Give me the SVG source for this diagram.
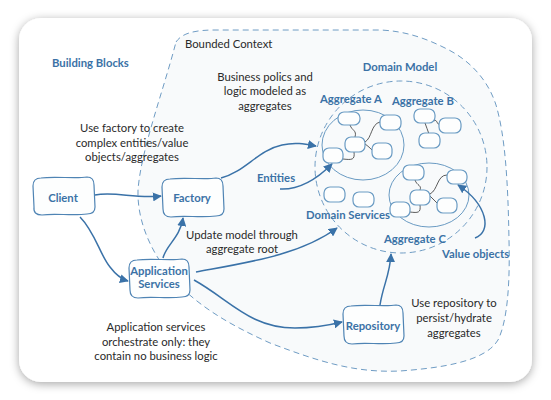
<svg xmlns="http://www.w3.org/2000/svg" width="551" height="400" viewBox="0 0 551 400">
<defs>
<filter id="sh" x="-10%" y="-10%" width="120%" height="120%">
<feDropShadow dx="0" dy="2" stdDeviation="5" flood-color="#000" flood-opacity="0.35"/>
</filter>
<marker id="ah" viewBox="0 0 10 10" refX="9" refY="5" markerWidth="9" markerHeight="9" markerUnits="userSpaceOnUse" orient="auto">
<path d="M0,0 L10,5 L0,10 Z" fill="#3a72a8"/>
</marker>
</defs>
<style>
.t{font-family:Lato,"Noto Sans",sans-serif;font-size:11.3px;fill:#2a2a2a}
.b{font-family:Lato,"Noto Sans",sans-serif;font-size:11.3px;font-weight:bold;fill:#3b72a6}
.m{text-anchor:middle}
.dash{fill:none;stroke:#6f9cc4;stroke-width:1;stroke-dasharray:6 4}
.box{fill:#fdfefe;stroke:#4f84b4;stroke-width:1.2}
.sr{fill:#fdfefe;stroke:#6a9bc3;stroke-width:1.2}
.el{fill:none;stroke:#6a9bc3;stroke-width:1}
.ln{fill:none;stroke:#333;stroke-width:0.8}
.c{fill:none;stroke:#3a72a8;stroke-width:1.5;marker-end:url(#ah)}
</style>
<rect x="0" y="0" width="551" height="400" fill="#ffffff"/>
<rect x="19" y="18" width="513" height="364" rx="22" fill="#ffffff" filter="url(#sh)"/>

<g id="bounded-context">
<path class="dash" style="fill:#f8fafb" d="M176,42 C182,33 195,30 215,30 L380,30 C405,31 425,38 445,48 C470,60 488,80 496,105 C505,135 508,180 509,240 C510,280 508,320 498,340 C485,362 440,368 400,371 C355,373 320,362 270,343 C230,325 195,305 170,275 C150,250 137,220 138,190 C141,150 163,92 176,42 Z"/>
<text class="t" x="185" y="48">Bounded Context</text>
</g>

<g id="domain-model">
<circle class="dash" cx="401" cy="167" r="86"/>
<text class="b m" x="400" y="71">Domain Model</text>
</g>

<g id="aggregate-a">
<ellipse class="el" cx="363" cy="145" rx="41" ry="35"/>
<path class="ln" d="M350,125 C352,131 357,130 355,137"/>
<path class="ln" d="M365,142 C372,138 371,124 380,122"/>
<path class="ln" d="M365,144 C368,146 370,148 373,151"/>
<path class="ln" d="M354,152 C355,160 352,160 343,159"/>
<rect class="sr" x="338" y="112" width="22" height="13" rx="6"/>
<rect class="sr" x="380" y="115" width="21" height="15" rx="6"/>
<rect class="sr" x="345" y="137" width="20" height="15" rx="6"/>
<rect class="sr" x="372" y="143" width="20" height="16" rx="6"/>
<rect class="sr" x="323" y="148" width="20" height="15" rx="6"/>
<text class="b" x="320" y="103">Aggregate A</text>
</g>

<g id="aggregate-b">
<path class="ln" d="M434,121 C437,118 437,126 440,124"/>
<path class="ln" d="M425,123 C426,127 428,130 429,134"/>
<rect class="sr" x="414" y="109" width="21" height="14" rx="6"/>
<rect class="sr" x="439" y="118" width="22" height="15" rx="6"/>
<rect class="sr" x="419" y="133" width="21" height="15" rx="6"/>
<text class="b" x="392" y="105">Aggregate B</text>
</g>

<g id="aggregate-c">
<ellipse class="el" cx="429" cy="195" rx="40" ry="32"/>
<path class="ln" d="M415,180 C417,186 422,185 420,190"/>
<path class="ln" d="M430,194 C438,190 437,175 447,175"/>
<path class="ln" d="M430,196 C433,199 435,201 438,204"/>
<path class="ln" d="M420,205 C421,213 418,213 410,212"/>
<rect class="sr" x="403" y="165" width="21" height="15" rx="6"/>
<rect class="sr" x="447" y="170" width="20" height="14" rx="6"/>
<rect class="sr" x="410" y="190" width="20" height="15" rx="6"/>
<rect class="sr" x="437" y="198" width="20" height="15" rx="6"/>
<rect class="sr" x="390" y="202" width="20" height="15" rx="6"/>
<text class="b" x="384" y="243">Aggregate C</text>
</g>

<g id="domain-services">
<rect class="sr" x="324" y="187" width="21" height="15" rx="6"/>
<rect class="sr" x="353" y="192" width="21" height="15" rx="6"/>
<text class="b m" x="348" y="219">Domain Services</text>
</g>

<g id="client">
<path class="box" d="M41,178 C55,176 75,179 87,177 Q94,177 94,185 L95,207 Q95,214 87,214 C72,216 55,213 42,215 Q33,215 34,207 L33,186 Q33,178 41,178 Z"/>
<text class="b m" x="63" y="202">Client</text>
</g>

<g id="factory">
<path class="box" d="M170,179 C185,177 205,180 216,178 Q223,178 223,186 L224,209 Q224,216 216,216 C200,218 185,215 171,217 Q163,217 163,209 L162,187 Q162,179 170,179 Z"/>
<text class="b m" x="192" y="202">Factory</text>
</g>

<g id="application-services">
<path class="box" d="M137,260 C152,258 170,261 182,259 Q189,259 189,267 L190,290 Q190,297 182,297 C167,299 152,296 138,298 Q130,298 130,290 L129,268 Q129,260 137,260 Z"/>
<text class="b m" x="159" y="275">Application</text>
<text class="b m" x="159" y="288">Services</text>
</g>

<g id="repository">
<path class="box" d="M351,306 C366,304 385,307 396,305 Q403,305 403,313 L404,336 Q404,343 396,343 C381,345 366,342 352,344 Q344,344 344,336 L343,314 Q343,306 351,306 Z"/>
<text class="b m" x="373" y="330">Repository</text>
</g>

<g id="labels">
<text class="b" x="52" y="67">Building Blocks</text>
<text class="t m" x="265" y="81">Business polics and</text>
<text class="t m" x="265" y="95">logic modeled as</text>
<text class="t m" x="265" y="110">aggregates</text>
<text class="t m" x="132" y="132">Use factory to create</text>
<text class="t m" x="132" y="147">complex entities/value</text>
<text class="t m" x="132" y="161">objects/aggregates</text>
<text class="b m" x="276" y="182">Entities</text>
<text class="t m" x="242" y="239">Update model through</text>
<text class="t m" x="242" y="253">aggregate root</text>
<text class="t m" x="156" y="331">Application services</text>
<text class="t m" x="156" y="346">orchestrate only: they</text>
<text class="t m" x="156" y="360">contain no business logic</text>
<text class="b" x="442" y="258">Value objects</text>
<text class="t m" x="454" y="307">Use repository to</text>
<text class="t m" x="454" y="322">persist/hydrate</text>
<text class="t m" x="454" y="337">aggregates</text>
</g>

<g id="connectors">
<path class="c" d="M95,195 C115,191 135,199 161,196"/>
<path class="c" d="M80,217 C95,232 100,255 110,267 C116,275 121,279 128,281"/>
<path class="c" d="M163,258 C166,245 180,238 183,218"/>
<path class="c" d="M221,178 C245,172 258,150 282,145 C295,142 305,144 316,146"/>
<path class="c" d="M280,189 C300,190 318,178 332,164"/>
<path class="c" d="M196,272 C250,262 300,255 337,228"/>
<path class="c" d="M194,280 C230,300 250,328 295,328 C315,328 330,325 342,322"/>
<path class="c" d="M380,305 C383,285 390,275 391,254"/>
<path class="c" d="M475,238 C492,232 488,205 458,185"/>
</g>
</svg>
